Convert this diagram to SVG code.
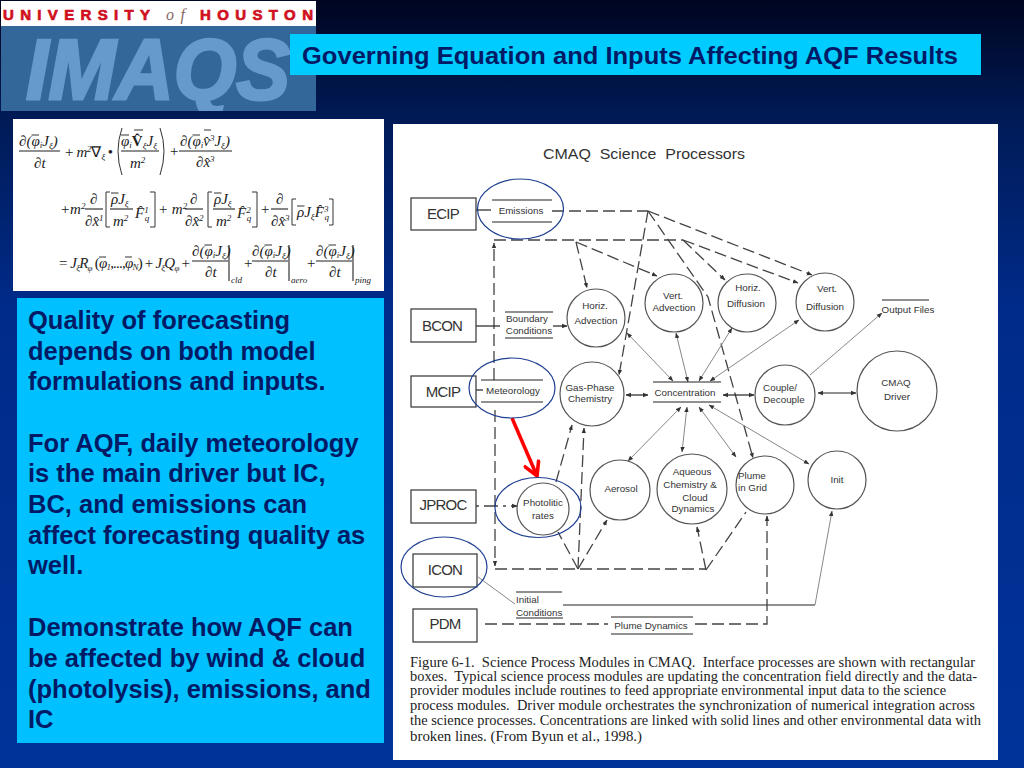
<svg xmlns="http://www.w3.org/2000/svg" width="1024" height="768" viewBox="0 0 1024 768">
<style>
.s{font-family:"Liberation Sans",Arial,sans-serif}
.lb{font-family:"Liberation Sans",Arial,sans-serif;font-size:9.8px;fill:#333;text-anchor:middle}
.bx{font-family:"Liberation Sans",Arial,sans-serif;font-size:15px;fill:#333;text-anchor:middle;letter-spacing:-.8px}
.box{fill:#fff;stroke:#333;stroke-width:1.2}
.c{fill:#fff;stroke:#555;stroke-width:1.2}
.ov{fill:none;stroke:#1f3f92;stroke-width:1.2}
.bar{stroke:#222;stroke-width:1.1;fill:none}
.dl{stroke:#333;stroke-width:1;fill:none}
.d,.l,.g{fill:none}
.d{stroke:#444;stroke-width:1.3;stroke-dasharray:12 5}
.l{stroke:#222;stroke-width:1.2}
.g{stroke:#888;stroke-width:1}
.p{font-family:"Liberation Sans",Arial,sans-serif;font-weight:bold;font-size:25.5px;fill:#001a66}
.cap{font-family:"Liberation Serif","Times New Roman",serif;font-size:14.6px;fill:#222;white-space:pre}
.e{font-family:"Liberation Serif","Times New Roman",serif;font-style:italic;font-size:15px;fill:#222}
.t{font-size:9px}
.n{font-style:normal}
</style>
<defs>
<linearGradient id="bg" x1="0" y1="0" x2="0" y2="1"><stop offset="0" stop-color="#000520"/><stop offset=".15" stop-color="#001a55"/><stop offset=".4" stop-color="#002b8a"/><stop offset="1" stop-color="#003399"/></linearGradient>
<marker id="a" viewBox="0 0 8 8" refX="7.5" refY="4" markerWidth="5.5" markerHeight="5.5" orient="auto-start-reverse" markerUnits="userSpaceOnUse"><path d="M0 .8L8 4L0 7.2z" fill="#333"/></marker>
<marker id="r" viewBox="0 0 10 10" refX="9" refY="5" markerWidth="18" markerHeight="18" orient="auto" markerUnits="userSpaceOnUse"><path d="M1 .5L9 5L1 9.5" fill="none" stroke="#f00" stroke-width="2"/></marker>
<clipPath id="lc"><rect x="1" y="26" width="315" height="85"/></clipPath>
</defs>
<rect width="1024" height="768" fill="url(#bg)"/>

<g id="logo">
<rect x="1" y="1" width="315" height="25" fill="#fff"/>
<rect x="1" y="26" width="315" height="85" fill="#336699"/>
<text class="s" x="3" y="20" font-size="15" font-weight="bold" fill="#d01020" stroke="#d01020" stroke-width=".7" textLength="147">UNIVERSITY</text>
<text x="166" y="20" font-family="Liberation Serif,serif" font-style="italic" font-size="16" fill="#886666" textLength="19">of</text>
<text class="s" x="200" y="20" font-size="15" font-weight="bold" fill="#d01020" stroke="#d01020" stroke-width=".7" textLength="113">HOUSTON</text>
<text class="s" x="26" y="99" font-size="86" font-weight="bold" font-style="italic" fill="#6699cc" stroke="#6699cc" stroke-width="3" textLength="264" lengthAdjust="spacingAndGlyphs" clip-path="url(#lc)">IMAQS</text>
</g>

<g id="title">
<rect x="290" y="34" width="691" height="41" fill="#00ccff"/>
<text class="s" x="302" y="64" font-size="24.5" font-weight="bold" fill="#001a66" textLength="656" lengthAdjust="spacingAndGlyphs">Governing Equation and Inputs Affecting AQF Results</text>
</g>

<g id="equation">
<rect x="13" y="119" width="371" height="172" fill="#fff"/>
<path class="dl" d="M31.5 135H39M121 135H129M192.5 135H200M134 130H143M204 130H211M111 193H118.5M214 193H221.5M297 206H304.5M99 257H106M125 257H132M204.5 245H212M264.5 245H272M328.5 245H336"/>
<text class="e" x="19" y="146">∂(φ<tspan class="t" dy="2">i</tspan><tspan dy="-2">J</tspan><tspan class="t" dy="3">ξ</tspan><tspan dy="-3">)</tspan></text>
<line class="bar" x1="19" y1="151" x2="60" y2="151"/>
<text class="e" x="34" y="168">∂t</text>
<text class="e" x="64" y="157" textLength="49">+ m<tspan class="t" dy="-5">2</tspan><tspan class="n" dy="5">∇</tspan><tspan class="t" dy="3"> ξ</tspan><tspan class="n" dy="-3"> •</tspan></text>
<path class="dl" d="M122 128Q114 151 122 175M160 128Q168 151 160 175"/>
<text class="e" x="121" y="146">φ<tspan class="t" dy="2">i</tspan><tspan dy="-2" font-weight="bold" class="n">V̂</tspan><tspan class="t" dy="3">ξ</tspan><tspan dy="-3">J</tspan><tspan class="t" dy="3">ξ</tspan></text>
<line class="bar" x1="121" y1="151" x2="159" y2="151"/>
<text class="e" x="130" y="168">m<tspan class="t" dy="-5">2</tspan></text>
<text class="e" x="169" y="156">+</text>
<text class="e" x="180" y="146">∂(φ<tspan class="t" dy="2">i</tspan><tspan dy="-2">v̂</tspan><tspan class="t" dy="-5">3</tspan><tspan dy="5">J</tspan><tspan class="t" dy="3">ξ</tspan><tspan dy="-3">)</tspan></text>
<line class="bar" x1="179" y1="151" x2="232" y2="151"/>
<text class="e" x="196" y="167">∂x̂<tspan class="t" dy="-5">3</tspan></text>

<text class="e" x="60" y="214">+m<tspan class="t" dy="-5">2</tspan></text>
<text class="e" x="90" y="204">∂</text><line class="bar" x1="85" y1="209" x2="103" y2="209"/><text class="e" x="85" y="226">∂x̂<tspan class="t" dy="-5">1</tspan></text>
<path class="dl" d="M110 192H106V227H110"/>
<text class="e" x="111" y="204">ρJ<tspan class="t" dy="3">ξ</tspan></text><line class="bar" x1="110" y1="209" x2="133" y2="209"/><text class="e" x="113" y="226">m<tspan class="t" dy="-5">2</tspan></text>
<text class="e" x="135" y="218">F̂<tspan class="t" dy="-5">1</tspan><tspan class="t" dy="8" dx="-4">q</tspan></text>
<path class="dl" d="M150 192H155V227H150"/>
<text class="e" x="158" y="214">+ m<tspan class="t" dy="-5">2</tspan></text>
<text class="e" x="190" y="204">∂</text><line class="bar" x1="185" y1="209" x2="203" y2="209"/><text class="e" x="185" y="226">∂x̂<tspan class="t" dy="-5">2</tspan></text>
<path class="dl" d="M212 192H208V227H212"/>
<text class="e" x="214" y="204">ρJ<tspan class="t" dy="3">ξ</tspan></text><line class="bar" x1="213" y1="209" x2="235" y2="209"/><text class="e" x="216" y="226">m<tspan class="t" dy="-5">2</tspan></text>
<text class="e" x="237" y="218">F̂<tspan class="t" dy="-5">2</tspan><tspan class="t" dy="8" dx="-4">q</tspan></text>
<path class="dl" d="M252 192H257V227H252"/>
<text class="e" x="260" y="214">+</text>
<text class="e" x="276" y="204">∂</text><line class="bar" x1="271" y1="209" x2="288" y2="209"/><text class="e" x="271" y="226">∂x̂<tspan class="t" dy="-5">3</tspan></text>
<path class="dl" d="M296 199H292V225H296"/>
<text class="e" x="297" y="217">ρJ<tspan class="t" dy="3">ξ</tspan><tspan dy="-3">F̂</tspan><tspan class="t" dy="-5">3</tspan><tspan class="t" dy="8" dx="-4">q</tspan></text>
<path class="dl" d="M329 199H333V225H329"/>

<text class="e" x="58" y="268" textLength="132">= J<tspan class="t" dy="3">ξ</tspan><tspan dy="-3">R</tspan><tspan class="t" dy="3">φ</tspan><tspan dy="-3" class="n"> (</tspan>φ<tspan class="t" dy="2">1</tspan><tspan dy="-2" class="n">,...,</tspan>φ<tspan class="t" dy="2">N</tspan><tspan dy="-2" class="n">) + </tspan>J<tspan class="t" dy="3">ξ</tspan><tspan dy="-3">Q</tspan><tspan class="t" dy="3">φ</tspan><tspan dy="-3" class="n"> +</tspan></text>
<text class="e" x="192" y="256">∂(φ<tspan class="t" dy="2">i</tspan><tspan dy="-2">J</tspan><tspan class="t" dy="3">ξ</tspan><tspan dy="-3">)</tspan></text>
<line class="bar" x1="192" y1="261" x2="228" y2="261"/><text class="e" x="205" y="277">∂t</text>
<line class="bar" x1="229" y1="245" x2="229" y2="281"/><text class="e t" x="231" y="283">cld</text>
<text class="e" x="243" y="268">+</text>
<text class="e" x="252" y="256">∂(φ<tspan class="t" dy="2">i</tspan><tspan dy="-2">J</tspan><tspan class="t" dy="3">ξ</tspan><tspan dy="-3">)</tspan></text>
<line class="bar" x1="252" y1="261" x2="288" y2="261"/><text class="e" x="265" y="277">∂t</text>
<line class="bar" x1="289" y1="245" x2="289" y2="281"/><text class="e t" x="291" y="283">aero</text>
<text class="e" x="306" y="268">+</text>
<text class="e" x="316" y="256">∂(φ<tspan class="t" dy="2">i</tspan><tspan dy="-2">J</tspan><tspan class="t" dy="3">ξ</tspan><tspan dy="-3">)</tspan></text>
<line class="bar" x1="316" y1="261" x2="352" y2="261"/><text class="e" x="329" y="277">∂t</text>
<line class="bar" x1="353" y1="245" x2="353" y2="281"/><text class="e t" x="355" y="283">ping</text>
</g>

<g id="notes">
<rect x="17" y="298" width="367" height="445" fill="#00c0ff"/>
<text class="p" x="28" y="329">Quality of forecasting</text>
<text class="p" x="28" y="360">depends on both model</text>
<text class="p" x="28" y="390">formulations and inputs.</text>
<text class="p" x="28" y="452">For AQF, daily meteorology</text>
<text class="p" x="28" y="482">is the main driver but IC,</text>
<text class="p" x="28" y="513">BC, and emissions can</text>
<text class="p" x="28" y="544">affect forecasting quality as</text>
<text class="p" x="28" y="574">well.</text>
<text class="p" x="28" y="636">Demonstrate how AQF can</text>
<text class="p" x="28" y="667">be affected by wind &amp; cloud</text>
<text class="p" x="28" y="698">(photolysis), emissions, and</text>
<text class="p" x="28" y="728">IC</text>
</g>

<rect id="sheet" x="393" y="124" width="605" height="636" fill="#fff"/>
<text id="heading" class="s" x="543" y="159" font-size="15" fill="#333" textLength="202" lengthAdjust="spacingAndGlyphs" xml:space="preserve">CMAQ  Science  Processors</text>

<g id="connectors">
<path class="l" d="M476 210H491"/>
<path class="d" d="M552 211H648"/>
<path class="d" d="M648 211L619 375" marker-end="url(#a)"/>
<path class="d" d="M648 211L812 275" marker-end="url(#a)"/>
<path class="d" d="M648 211L708 297L753 458" marker-end="url(#a)"/>
<path class="d" d="M494 240H683"/>
<path class="d" d="M494 380V243" marker-end="url(#a)"/>
<path class="d" d="M683 240L725 280" marker-end="url(#a)"/>
<path class="d" d="M683 240L798 283" marker-end="url(#a)"/>
<path class="d" d="M576 242L587 288" marker-end="url(#a)"/>
<path class="d" d="M576 242L657 276" marker-end="url(#a)"/>
<path class="l" d="M476 326H500"/>
<path class="l" d="M553 326H567" marker-end="url(#a)"/>
<path class="l" d="M476 390H483"/>
<path class="d" d="M495 410V566" marker-end="url(#a)"/>
<path class="d" d="M495 569H706"/>
<path class="d" d="M476 506H517" marker-end="url(#a)" style="stroke-dasharray:3 5 14 5"/>
<path class="d" d="M556 482L572 425" marker-end="url(#a)"/>
<path class="d" d="M578 569L584 428" marker-end="url(#a)"/>
<path class="d" d="M578 569L558 532"/>
<path class="d" d="M578 569L607 520" marker-end="url(#a)"/>
<path class="d" d="M706 570L697 527" marker-end="url(#a)"/>
<path class="d" d="M706 570L746 512"/>
<path class="g" d="M627 333L673 381" marker-start="url(#a)" marker-end="url(#a)"/>
<path class="g" d="M676 333L688 382" marker-start="url(#a)" marker-end="url(#a)"/>
<path class="l" d="M626 395H648" marker-start="url(#a)" marker-end="url(#a)"/>
<path class="l" d="M723 395H754" marker-start="url(#a)" marker-end="url(#a)"/>
<path class="l" d="M818 393H856" marker-start="url(#a)" marker-end="url(#a)"/>
<path class="g" d="M710 381L799 320" marker-start="url(#a)" marker-end="url(#a)"/>
<path class="g" d="M699 381L732 328" marker-start="url(#a)" marker-end="url(#a)"/>
<path class="g" d="M810 375L882 313" marker-end="url(#a)"/>
<path class="g" d="M709 405L809 464" marker-start="url(#a)" marker-end="url(#a)"/>
<path class="g" d="M699 407L736 457" marker-start="url(#a)" marker-end="url(#a)"/>
<path class="g" d="M687 407L682 452" marker-start="url(#a)" marker-end="url(#a)"/>
<path class="g" d="M681 407L628 461" marker-start="url(#a)" marker-end="url(#a)"/>
<path class="g" d="M478 577L515 604"/>
<path class="l" d="M563 605H815"/>
<path class="g" d="M815 605L832 511" marker-end="url(#a)"/>
<path class="d" d="M485 624H608"/>
<path class="d" d="M695 624H767V516" marker-end="url(#a)"/>
<path d="M512 418L537 476" fill="none" stroke="#f00" stroke-width="3.5" marker-end="url(#r)"/>
</g>

<g id="ecip"><rect class="box" x="411" y="198" width="65" height="32"/><text class="bx" x="443" y="219">ECIP</text></g>
<g id="bcon"><rect class="box" x="411" y="309" width="65" height="33"/><text class="bx" x="442" y="331">BCON</text></g>
<g id="mcip"><rect class="box" x="411" y="376" width="65" height="31"/><text class="bx" x="443" y="397">MCIP</text></g>
<g id="jproc"><rect class="box" x="411" y="490" width="65" height="33"/><text class="bx" x="443" y="510">JPROC</text></g>
<g id="icon"><rect class="box" x="413" y="554" width="64" height="33"/><text class="bx" x="445" y="575">ICON</text></g>
<g id="pdm"><rect class="box" x="413" y="609" width="64" height="33"/><text class="bx" x="445" y="629">PDM</text></g>

<g id="emissions"><path class="bar" d="M492 200H552M492 222H552"/><text class="lb" x="521" y="214">Emissions</text></g>
<g id="boundary"><path class="bar" d="M505 312H553M505 338H553"/><text class="lb" x="527" y="322">Boundary</text><text class="lb" x="529" y="334">Conditions</text></g>
<g id="meteorology"><path class="bar" d="M481 380H543M481 402H543"/><text class="lb" x="513" y="394">Meteorology</text></g>
<g id="concentration"><path class="bar" d="M653 382H721M653 402H721"/><text class="lb" x="685" y="396">Concentration</text></g>
<g id="output"><path class="bar" d="M882 300H929"/><text class="lb" x="908" y="313">Output Files</text></g>
<g id="initial"><path class="bar" d="M516 592H562M516 618H563"/><text class="lb" x="516" y="603" style="text-anchor:start">Initial</text><text class="lb" x="516" y="616" style="text-anchor:start">Conditions</text></g>
<g id="plumedyn"><path class="bar" d="M611 617H693M611 634H693"/><text class="lb" x="651" y="629">Plume Dynamics</text></g>

<g id="hadv"><circle class="c" cx="596" cy="318" r="29"/><text class="lb" x="595" y="309">Horiz.</text><text class="lb" x="596" y="324">Advection</text></g>
<g id="vadv"><circle class="c" cx="674" cy="303" r="29"/><text class="lb" x="673" y="299">Vert.</text><text class="lb" x="674" y="311">Advection</text></g>
<g id="hdif"><circle class="c" cx="747" cy="303" r="29"/><text class="lb" x="748" y="291">Horiz.</text><text class="lb" x="746" y="307">Diffusion</text></g>
<g id="vdif"><circle class="c" cx="825" cy="302" r="29"/><text class="lb" x="827" y="292">Vert.</text><text class="lb" x="825" y="310">Diffusion</text></g>
<g id="gas"><circle class="c" cx="592" cy="394" r="32"/><text class="lb" x="590" y="391">Gas-Phase</text><text class="lb" x="590" y="402">Chemistry</text></g>
<g id="couple"><circle class="c" cx="785" cy="395" r="30"/><text class="lb" x="780" y="391">Couple/</text><text class="lb" x="784" y="403">Decouple</text></g>
<g id="driver"><circle class="c" cx="897" cy="391" r="40"/><text class="lb" x="896" y="386">CMAQ</text><text class="lb" x="897" y="400">Driver</text></g>
<g id="photo"><circle class="c" cx="543" cy="509" r="26"/><text class="lb" x="543" y="506">Photolitic</text><text class="lb" x="543" y="519">rates</text></g>
<g id="aerosol"><circle class="c" cx="620" cy="490" r="30"/><text class="lb" x="621" y="492">Aerosol</text></g>
<g id="aqueous"><circle class="c" cx="692" cy="489" r="35"/><text class="lb" x="692" y="475">Aqueous</text><text class="lb" x="690" y="488">Chemistry &amp;</text><text class="lb" x="695" y="501">Cloud</text><text class="lb" x="693" y="512">Dynamics</text></g>
<g id="plume"><circle class="c" cx="765" cy="485" r="29"/><text class="lb" x="738" y="479" style="text-anchor:start">Plume</text><text class="lb" x="738" y="491" style="text-anchor:start">in Grid</text></g>
<g id="init"><circle class="c" cx="837" cy="480" r="29"/><text class="lb" x="837" y="483">Init</text></g>

<g id="highlights">
<ellipse class="ov" cx="520.5" cy="209" rx="43" ry="30"/>
<ellipse class="ov" cx="512" cy="388" rx="43" ry="30"/>
<ellipse class="ov" cx="538" cy="507.5" rx="43" ry="30"/>
<ellipse class="ov" cx="444" cy="567" rx="43" ry="30"/>
</g>

<g id="caption">
<text class="cap" x="410" y="667" textLength="565" lengthAdjust="spacingAndGlyphs">Figure 6-1.  Science Process Modules in CMAQ.  Interface processes are shown with rectangular</text>
<text class="cap" x="410" y="681" textLength="567" lengthAdjust="spacingAndGlyphs">boxes.  Typical science process modules are updating the concentration field directly and the data-</text>
<text class="cap" x="410" y="695" textLength="536" lengthAdjust="spacingAndGlyphs">provider modules include routines to feed appropriate environmental input data to the science</text>
<text class="cap" x="410" y="710" textLength="565" lengthAdjust="spacingAndGlyphs">process modules.  Driver module orchestrates the synchronization of numerical integration across</text>
<text class="cap" x="410" y="725" textLength="571" lengthAdjust="spacingAndGlyphs">the science processes. Concentrations are linked with solid lines and other environmental data with</text>
<text class="cap" x="410" y="741" textLength="232" lengthAdjust="spacingAndGlyphs">broken lines. (From Byun et al., 1998.)</text>
</g>
</svg>
